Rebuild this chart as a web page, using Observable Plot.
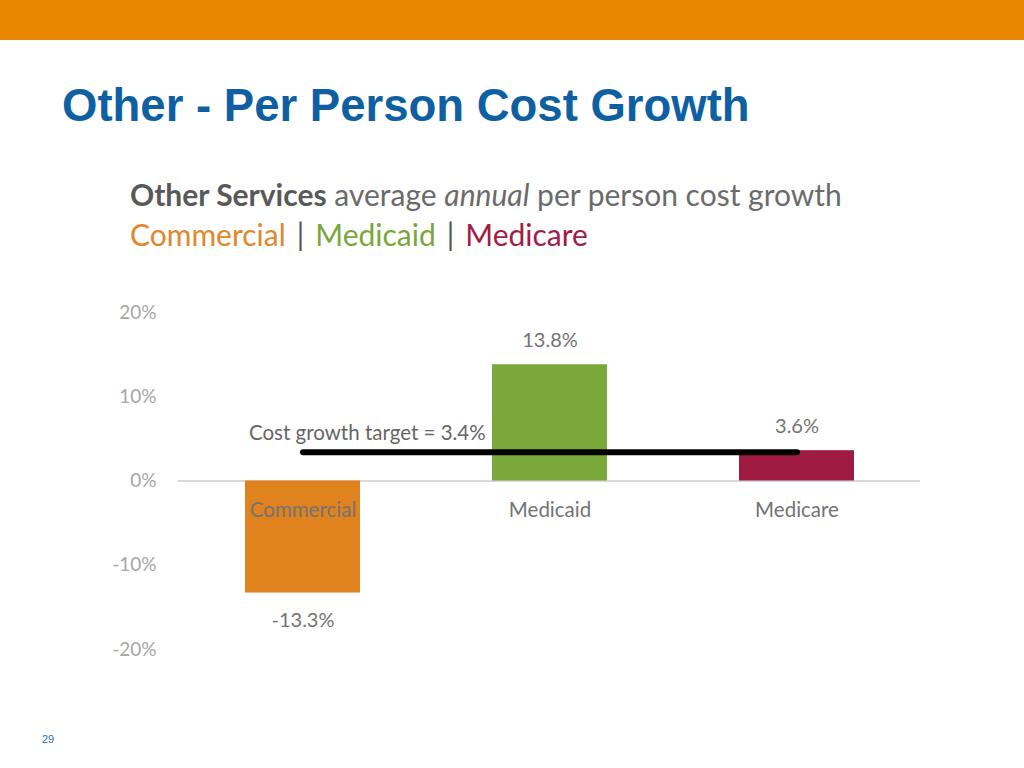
<!DOCTYPE html>
<html>
<head>
<meta charset="utf-8">
<script src="https://cdn.jsdelivr.net/npm/d3@7"></script>
<script src="https://cdn.jsdelivr.net/npm/@observablehq/plot@0.6"></script>
<style>
  html, body { margin: 0; padding: 0; background: #fff; width: 1024px; height: 768px; overflow: hidden; position: relative; }
  .topbar { position: absolute; left: 0; top: 0; width: 1024px; height: 40px; background: #e98800; }
  .title { position: absolute; left: 62px; top: 80px; font-family: "Liberation Sans", Arial, sans-serif; font-weight: bold; font-size: 45.5px; color: #0f5fa3; white-space: nowrap; }
  .sub { position: absolute; left: 130px; font-family: Lato, "Open Sans", sans-serif; font-size: 30px; color: #6b6b6b; white-space: nowrap; }
  .sub1 { top: 176px; }
  .sub2 { top: 216px; }
  .sep { color: #555; margin: 0 11px; }
  .pagenum { position: absolute; left: 42px; top: 733px; font-family: "Liberation Sans", Arial, sans-serif; font-size: 11px; color: #2a6fb0; }
  #chart { position: absolute; left: 100px; top: 290px; }
</style>
</head>
<body>
<div class="topbar"></div>
<div class="title">Other - Per Person Cost Growth</div>
<div class="sub sub1"><b style="color:#595959">Other Services</b> average <i>annual</i> per person cost growth</div>
<div class="sub sub2"><span style="color:#e2872a">Commercial</span><span class="sep">|</span><span style="color:#7aa73a">Medicaid</span><span class="sep">|</span><span style="color:#a31c45">Medicare</span></div>
<div id="chart"></div>
<div class="pagenum">29</div>
<script>
const categories = ["Commercial", "Medicaid", "Medicare"];
const values = [-13.3, 13.8, 3.6];
const colors = ["#e0821e", "#7aa83a", "#a01b42"];
const target = 3.4;
const targetLabel = "Cost growth target = 3.4%";
const yTicks = [-20, -10, 0, 10, 20];

const data = categories.map((c, i) => ({category: c, value: values[i], color: colors[i]}));
const targetLine = [
  {category: categories[0], value: target},
  {category: categories[categories.length - 1], value: target}
];
const fmt = d => d.value.toFixed(1) + "%";

const chart = Plot.plot({
  width: 860,
  height: 390,
  marginLeft: 78,
  marginRight: 40,
  marginTop: 22,
  marginBottom: 31,
  style: {fontFamily: "Lato, 'Open Sans', sans-serif", background: "transparent"},
  x: {domain: categories, paddingInner: 0.535, paddingOuter: 0.2675, axis: null},
  y: {domain: [-20, 20], label: null},
  marks: [
    Plot.axisY({ticks: yTicks, tickFormat: d => d + "%", tickSize: 0, tickPadding: 22, fontSize: 19, color: "#a6a6a6", label: null}),
    Plot.ruleY([0], {stroke: "#d9d9d9", strokeWidth: 2}),
    Plot.barY(data, {x: "category", y: "value", fill: "color"}),
    Plot.text(data, {x: "category", y: 0, text: "category", dy: 29, fontSize: 20.5, fill: "#737373"}),
    Plot.text(data.filter(d => d.value >= 0), {x: "category", y: "value", text: fmt, dy: -24, fontSize: 20, fill: "#737373"}),
    Plot.text(data.filter(d => d.value < 0), {x: "category", y: "value", text: fmt, dy: 28, fontSize: 20, fill: "#737373"}),
    Plot.line(targetLine, {x: "category", y: "value", stroke: "#000", strokeWidth: 6, strokeLinecap: "round"}),
    Plot.text([targetLine[0]], {x: "category", y: "value", text: () => targetLabel, textAnchor: "start", dx: -54, dy: -19, fontSize: 20.5, fill: "#666"})
  ]
});
document.getElementById("chart").appendChild(chart);
</script>
</body>
</html>
